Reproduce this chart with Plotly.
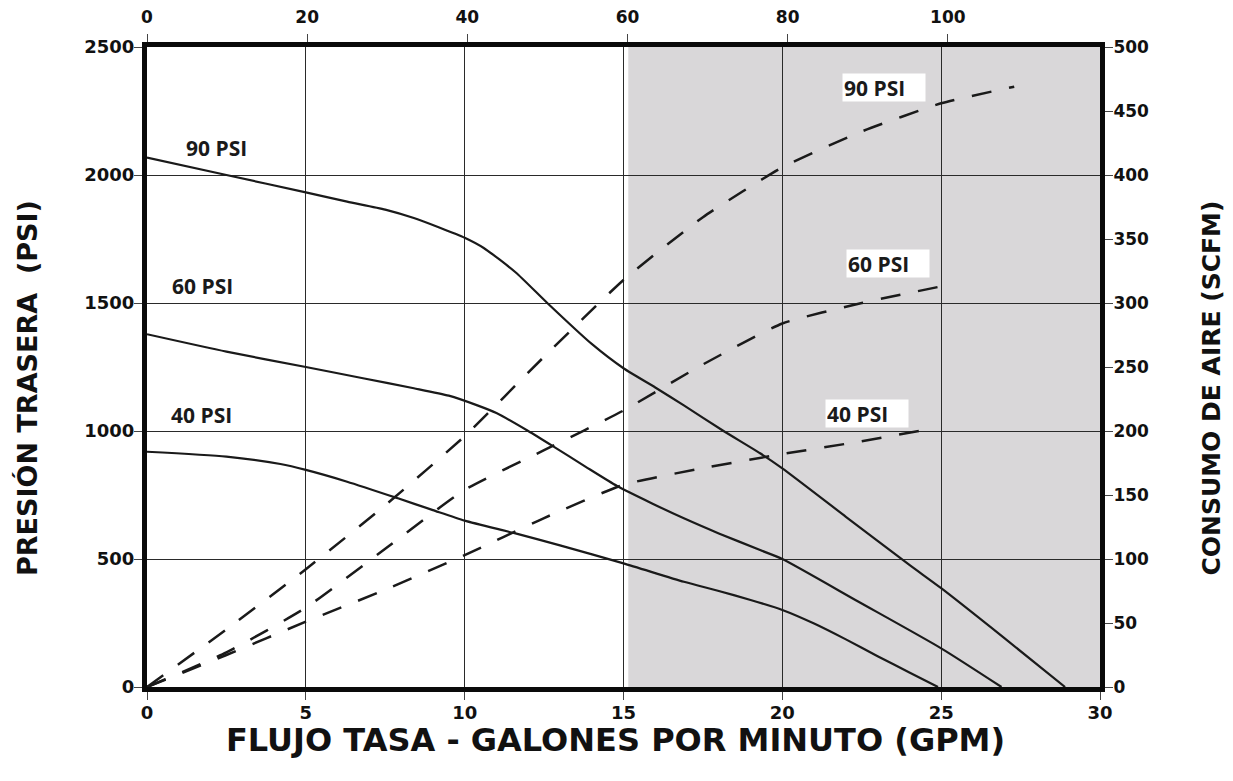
import plotly.graph_objects as go

# ---- data ----
# Back pressure (PSI) curves vs flow (GPM), left axis
gpm_90 = [0, 2.5, 5, 6.3, 7.5, 8.4, 9.2, 10, 10.6, 11.6, 12.6, 14, 15, 16, 16.9, 18.1, 19.3, 20, 22, 24, 25, 27, 28.9]
psi_90 = [2068, 2000, 1932, 1896, 1865, 1832, 1795, 1755, 1715, 1620, 1500, 1340, 1245, 1170, 1100, 1004, 913, 854, 665, 477, 386, 190, 0]

gpm_60 = [0, 2.5, 5, 6.8, 8.4, 9.5, 10.4, 11, 12, 12.8, 13.8, 14.8, 15.9, 16.9, 18, 19.3, 20, 22.4, 25, 26.9]
psi_60 = [1378, 1310, 1250, 1206, 1167, 1138, 1100, 1070, 1000, 939, 861, 785, 717, 659, 600, 535, 500, 333, 151, 0]

gpm_40 = [0, 2.5, 4.2, 5, 6.3, 7.9, 9, 10, 11.6, 13, 15, 16.9, 18, 19, 20, 21, 22, 23, 24, 24.9]
psi_40 = [919, 900, 871, 848, 802, 737, 691, 650, 600, 553, 483, 411, 375, 340, 301, 248, 186, 120, 57, 0]

# Air consumption (SCFM) curves vs flow (GPM), right axis
gpm_90_air = [0, 2.5, 5, 7.5, 10, 12.5, 15, 17.5, 20, 22.5, 25, 27.3]
scfm_90 = [0, 45, 92, 142, 196, 258, 318, 367, 406, 434, 456, 469]
gpm_60_air = [0, 2.5, 5, 7.5, 10, 12.5, 15, 17.5, 20, 22.5, 25.2]
scfm_60 = [0, 27, 62, 108, 154, 185, 216, 252, 284, 300, 314]
gpm_40_air = [0, 2.5, 5, 7.5, 10, 12.5, 15, 17.5, 20, 22.5, 24.3]
scfm_40 = [0, 25, 51, 76, 103, 132, 158, 171, 182, 192, 200]

x_ticks = [0, 5, 10, 15, 20, 25, 30]
x_top_ticks = [0, 20, 40, 60, 80, 100]
y_left_ticks = [0, 500, 1000, 1500, 2000, 2500]
y_right_ticks = [0, 50, 100, 150, 200, 250, 300, 350, 400, 450, 500]
shade_from_gpm = 15.15

TICK_FONT = "DejaVu Sans"
LABEL_FONT = "Open Sans"
INK = "#1a1a1a"

fig = go.Figure()

for gx, gy in [(gpm_90, psi_90), (gpm_60, psi_60), (gpm_40, psi_40)]:
    fig.add_trace(go.Scatter(x=gx, y=gy, mode="lines", xaxis="x", yaxis="y",
                             line=dict(color=INK, width=2.2, shape="spline", smoothing=0.6),
                             showlegend=False, hoverinfo="skip"))

for gx, gy in [(gpm_90_air, scfm_90), (gpm_60_air, scfm_60), (gpm_40_air, scfm_40)]:
    fig.add_trace(go.Scatter(x=gx, y=gy, mode="lines", xaxis="x", yaxis="y2",
                             line=dict(color=INK, width=2.5, dash="20px,18px", shape="spline", smoothing=0.5),
                             showlegend=False, hoverinfo="skip"))

# dummy trace to create the top axis
fig.add_trace(go.Scatter(x=[None], y=[None], xaxis="x2", yaxis="y", showlegend=False, hoverinfo="skip"))

fig.add_shape(type="rect", xref="x", yref="paper", x0=shade_from_gpm, x1=30, y0=0, y1=1,
              fillcolor="#d9d7d9", line=dict(width=0), layer="below")

tickfont = dict(family=TICK_FONT, size=18, color="#111", weight=700)
tickfont_small = dict(family=TICK_FONT, size=17, color="#111", weight=700)
common = dict(showline=True, linecolor="#0a0a0a", linewidth=5, ticks="outside", ticklen=8,
              tickwidth=1, tickcolor="#444", zeroline=False, automargin=False)

fig.update_layout(
    width=1217, height=765,
    margin=dict(l=139, r=125, t=39, b=86, autoexpand=False),
    paper_bgcolor="white", plot_bgcolor="white",
    xaxis=dict(range=[0, 30], tickvals=x_ticks, showgrid=True, gridcolor="#2a2a2a", gridwidth=1.2,
               tickfont=tickfont, ticklabelstandoff=-3, **common),
    xaxis2=dict(range=[0, 119], tickvals=x_top_ticks, overlaying="x", side="top", anchor="y",
                showgrid=False, tickfont=tickfont_small, ticklabelstandoff=4, **common),
    yaxis=dict(range=[0, 2500], tickvals=y_left_ticks, showgrid=True, gridcolor="#2a2a2a", gridwidth=1.2,
               tickfont=tickfont, ticklabelstandoff=-4, **common),
    yaxis2=dict(range=[0, 500], tickvals=y_right_ticks, overlaying="y", side="right", anchor="x",
                showgrid=False, tickfont=tickfont_small, ticklabelstandoff=-3, **common),
)

lab_font = dict(family=LABEL_FONT, size=21, color=INK, weight=700)
# solid-curve labels
for txt, gx, py in [("90 PSI", 2.2, 2107), ("60 PSI", 1.75, 1566), ("40 PSI", 1.73, 1064)]:
    fig.add_annotation(text=txt, x=gx, y=py, xref="x", yref="y", showarrow=False,
                       font=lab_font, xanchor="center", yanchor="middle")
# dashed-curve labels (white boxes)
for txt, gx, py in [("90 PSI", 23.21, 2340), ("60 PSI", 23.33, 1656), ("40 PSI", 22.66, 1068)]:
    fig.add_annotation(text=txt, x=gx, y=py, xref="x", yref="y", showarrow=False,
                       font=lab_font, xanchor="center", yanchor="middle",
                       bgcolor="white", width=80, height=25, align="left", borderpad=1)

fig.add_annotation(text="FLUJO TASA - GALONES POR MINUTO (GPM)", x=0.492, y=-0.083,
                   xref="paper", yref="paper", showarrow=False, xanchor="center", yanchor="middle",
                   font=dict(family=TICK_FONT, size=32, color="#111", weight=700))
fig.add_annotation(text="PRESIÓN TRASERA&nbsp; (PSI)", x=-0.126, y=0.467, textangle=-90,
                   xref="paper", yref="paper", showarrow=False, xanchor="center", yanchor="middle",
                   font=dict(family=TICK_FONT, size=27, color="#111", weight=700))
fig.add_annotation(text="CONSUMO DE AIRE (SCFM)", x=1.117, y=0.467, textangle=-90,
                   xref="paper", yref="paper", showarrow=False, xanchor="center", yanchor="middle",
                   font=dict(family=TICK_FONT, size=25, color="#111", weight=700))

fig.write_html("out.html")
